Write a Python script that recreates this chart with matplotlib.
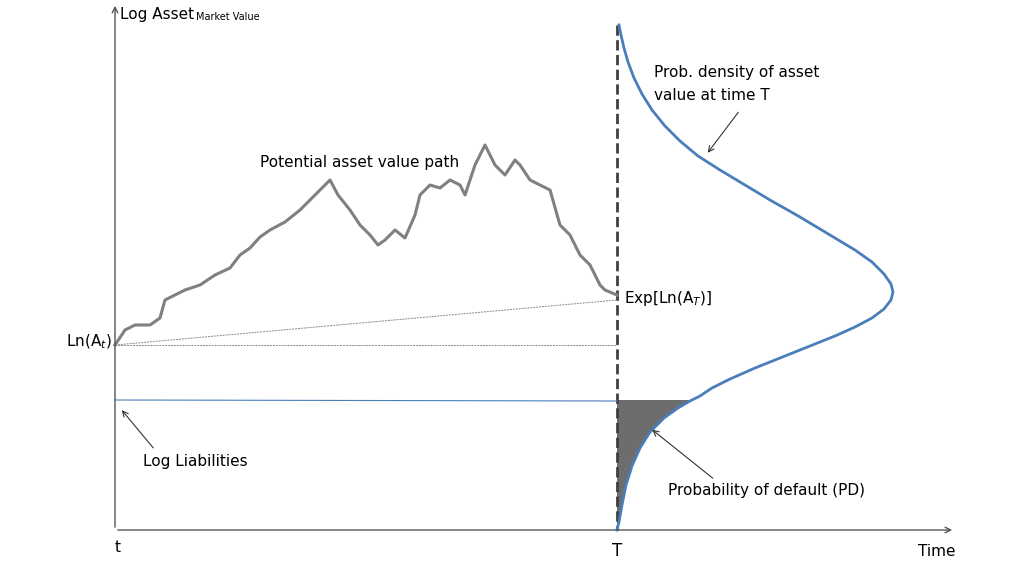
import matplotlib
matplotlib.use("Agg")
import matplotlib.pyplot as plt
import numpy as np

# asset path (pixel-like coordinates)
path_x = [115,125,135,150,160,165,175,185,200,215,230,240,250,260,270,285,300,310,320,330,338,350,360,370,378,385,395,405,415,420,430,440,450,460,465,475,485,495,505,515,520,530,540,550,560,570,580,590,600,605,617]
path_y = [345,330,325,325,318,300,295,290,285,275,268,255,248,237,230,222,210,200,190,180,195,210,225,235,245,240,230,238,215,195,185,188,180,185,195,165,145,165,175,160,165,180,185,190,225,235,255,265,285,290,295]
# density curve
dens_x = [619,621,624,628,634,642,652,665,680,698,720,745,770,800,830,855,872,884,891,893,891,884,872,855,835,810,780,755,730,712,700,690,678,664,650,640,632,626,622,619,617]
dens_y = [25,35,48,62,78,94,110,126,141,156,170,185,200,217,235,250,262,274,284,292,300,309,318,327,336,346,358,368,379,388,396,401,408,418,432,448,466,485,505,522,530]

fig = plt.figure(figsize=(10.24,5.69), dpi=100)
ax = fig.add_axes([0,0,1,1])
ax.set_xlim(0,1024); ax.set_ylim(569,0); ax.axis('off')

ax.annotate('', xy=(955,530), xytext=(115,530), arrowprops=dict(arrowstyle='->', color='#555', lw=1))
ax.annotate('', xy=(115,3), xytext=(115,530), arrowprops=dict(arrowstyle='->', color='#555', lw=1))
fx = np.array(dens_x[31:]); fy = np.array(dens_y[31:])
fx = np.concatenate([[617, 692], fx]); fy = np.concatenate([[400, 400], fy])
ax.fill(fx, fy, color='#6d6d6d', lw=0)
ax.plot([617,617],[25,530], ls='--', color='#404040', lw=2)
ax.plot(path_x, path_y, color='#808080', lw=2.2)
ax.plot(dens_x, dens_y, color='#4a7ebb', lw=2)
ax.plot([115,617],[400,401], color='#4a7ebb', lw=0.8)
ax.plot([115,617],[345,345], color='#888', lw=0.7, ls=(0,(2,1)))
ax.plot([115,617],[345,300], color='#888', lw=0.7, ls=(0,(2,1)))

fs = 11
ax.text(120,14,'Log Asset', fontsize=fs, va='center')
ax.text(196,17,'Market Value', fontsize=7, va='center')
ax.text(260,162,'Potential asset value path', fontsize=fs, va='center')
ax.text(112,342,r'Ln(A$_t$)', fontsize=fs, va='center', ha='right')
ax.text(624,298,r'Exp[Ln(A$_T$)]', fontsize=fs, va='center')
ax.text(654,72,'Prob. density of asset', fontsize=fs, va='center')
ax.text(654,95,'value at time T', fontsize=fs, va='center')
ax.annotate('', xy=(706,155), xytext=(740,110), arrowprops=dict(arrowstyle='->', color='#333', lw=0.8))
ax.text(143,461,'Log Liabilities', fontsize=fs, va='center')
ax.annotate('', xy=(120,408), xytext=(155,450), arrowprops=dict(arrowstyle='->', color='#333', lw=0.8))
ax.text(668,490,'Probability of default (PD)', fontsize=fs, va='center')
ax.annotate('', xy=(650,428), xytext=(715,480), arrowprops=dict(arrowstyle='->', color='#333', lw=0.8))
ax.text(115,548,'t', fontsize=fs, va='center')
ax.text(617,551,'T', fontsize=12, va='center', ha='center')
ax.text(918,552,'Time', fontsize=fs, va='center')
fig.savefig('out.png', dpi=100)
